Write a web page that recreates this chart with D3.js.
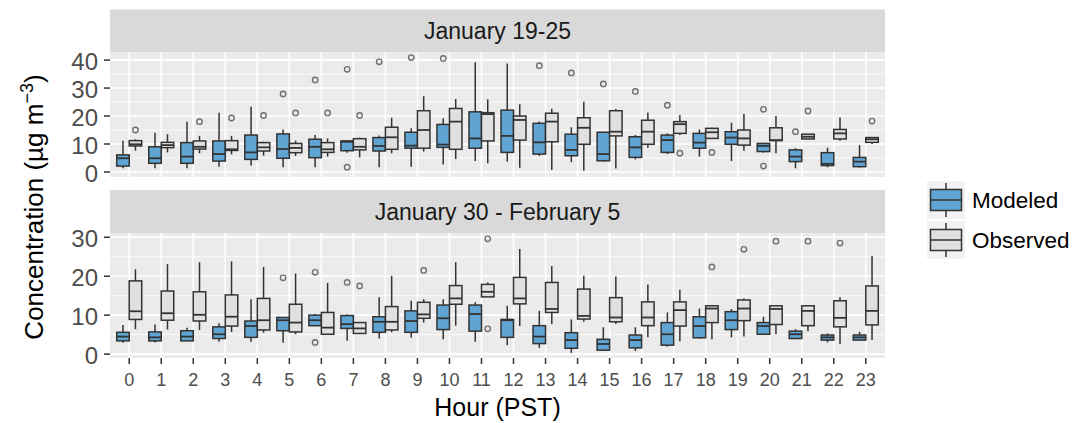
<!DOCTYPE html>
<html>
<head>
<meta charset="utf-8">
<script src="https://cdn.jsdelivr.net/npm/d3@7"></script>
<style>
body { margin: 0; background: #fff; }
text { font-family: "Liberation Sans", Arial, sans-serif; }
</style>
</head>
<body>
<script>
// hours on the x axis
var hours = d3.range(24);
var seriesNames = ["Modeled", "Observed"];
var panelTitles = ["January 19-25", "January 30 - February 5"];
var topTicks = [0, 10, 20, 30, 40];
var bottomTicks = [0, 10, 20, 30];

// box stats per hour: [lower whisker, q1, median, q3, upper whisker]
var janModeled = [
  [1.3, 2.1, 4.9, 6.1, 11.2], [1.3, 3.1, 4.9, 9.0, 14.0], [1.3, 3.1, 5.5, 10.5, 18.0], [1.9, 3.9, 6.4, 11.1, 21.2],
  [2.3, 4.5, 7.0, 13.2, 23.3], [1.7, 4.9, 8.2, 13.6, 15.2], [1.7, 5.1, 9.0, 11.7, 13.2], [6.9, 7.6, 10.8, 11.1, 11.4],
  [1.7, 7.5, 9.3, 12.3, 13.0], [1.9, 8.5, 9.4, 14.2, 15.6], [2.7, 8.8, 9.8, 17.0, 19.2], [3.9, 8.5, 12.0, 21.5, 39.2],
  [3.7, 7.0, 12.9, 22.1, 38.8], [5.7, 6.4, 10.6, 17.4, 18.0], [3.5, 5.8, 7.9, 13.5, 16.0], [3.7, 4.0, 6.4, 14.2, 14.4],
  [4.5, 5.2, 8.8, 12.6, 13.2], [6.4, 7.0, 11.4, 13.2, 13.8], [5.5, 8.5, 10.5, 13.8, 15.2], [3.9, 9.9, 12.3, 14.4, 17.6],
  [6.9, 7.3, 9.3, 10.2, 10.2], [1.3, 3.7, 5.5, 7.9, 8.5], [1.7, 2.3, 2.9, 6.9, 8.7], [1.5, 1.9, 3.7, 5.2, 9.6]
];
var janObserved = [
  [7.6, 9.3, 9.9, 11.2, 11.7], [7.0, 8.7, 9.6, 10.6, 13.5], [6.7, 8.2, 9.0, 11.1, 12.9], [6.3, 7.7, 8.1, 11.2, 12.9],
  [5.8, 7.5, 8.8, 10.5, 10.8], [5.7, 6.9, 8.6, 10.2, 11.2], [5.5, 7.0, 8.1, 10.5, 12.0], [5.2, 7.9, 9.0, 11.9, 12.3],
  [6.7, 8.1, 12.4, 16.0, 19.4], [7.3, 8.5, 15.0, 21.9, 27.1], [4.6, 8.1, 18.0, 22.7, 26.1], [3.1, 11.1, 20.7, 21.2, 26.0],
  [1.5, 11.4, 18.6, 20.0, 24.2], [0.7, 10.8, 18.0, 21.0, 22.6], [0.4, 9.9, 15.8, 19.4, 25.1], [1.2, 12.9, 14.4, 21.9, 22.5],
  [8.7, 9.9, 14.4, 18.5, 21.3], [13.2, 13.8, 17.1, 18.0, 20.4], [12.0, 12.0, 14.2, 15.6, 15.8], [7.6, 9.6, 12.0, 15.0, 20.7],
  [6.7, 11.2, 11.4, 15.8, 20.0], [11.8, 11.8, 12.6, 13.5, 13.5], [11.2, 11.8, 13.8, 15.2, 19.5], [10.0, 10.6, 11.7, 12.3, 12.3]
];
var febModeled = [
  [2.9, 3.4, 4.5, 5.6, 7.5], [3.0, 3.4, 4.3, 5.7, 7.6], [3.4, 3.4, 4.5, 6.0, 6.8], [3.2, 4.0, 5.1, 7.0, 7.9],
  [3.2, 4.3, 7.2, 8.5, 14.1], [2.9, 6.0, 8.7, 9.4, 9.4], [7.3, 7.3, 8.7, 10.0, 10.3], [3.4, 6.6, 7.7, 9.9, 10.2],
  [4.0, 5.6, 8.3, 9.6, 14.6], [4.2, 5.6, 8.5, 11.1, 13.7], [3.8, 6.3, 9.2, 12.6, 14.1], [3.2, 5.9, 10.3, 12.6, 13.3],
  [2.3, 4.3, 8.7, 8.9, 12.4], [1.6, 2.7, 4.5, 7.3, 11.1], [0.3, 1.5, 3.6, 5.5, 8.9], [1.0, 1.0, 2.6, 3.8, 6.9],
  [0.8, 1.6, 3.6, 4.9, 6.9], [1.9, 2.3, 5.1, 8.1, 10.7], [4.0, 4.2, 7.2, 9.6, 11.7], [4.3, 6.3, 8.7, 10.9, 11.6],
  [5.1, 5.1, 7.2, 8.1, 9.6], [4.0, 4.0, 5.1, 5.9, 6.4], [3.0, 3.6, 4.3, 4.9, 5.3], [3.6, 3.6, 4.3, 4.9, 5.7]
];
var febObserved = [
  [6.4, 8.9, 11.0, 18.8, 21.8], [6.3, 8.7, 10.5, 16.2, 23.1], [6.2, 8.5, 10.1, 16.0, 23.6], [5.7, 7.2, 9.6, 15.2, 23.8],
  [5.5, 6.2, 8.7, 14.3, 22.4], [5.1, 5.7, 8.1, 12.8, 20.7], [5.1, 5.1, 6.8, 10.7, 18.3], [5.3, 5.3, 6.6, 8.1, 8.1],
  [5.6, 6.2, 8.3, 12.2, 20.1], [8.1, 9.2, 10.2, 13.3, 14.1], [7.3, 12.8, 14.3, 17.6, 23.6], [14.7, 14.7, 16.0, 17.9, 18.4],
  [7.2, 12.9, 14.3, 19.7, 27.0], [7.7, 10.7, 11.6, 18.4, 22.6], [8.3, 9.0, 9.8, 16.7, 20.1], [7.7, 8.3, 9.4, 14.5, 19.9],
  [4.3, 7.3, 9.4, 13.4, 17.9], [3.3, 7.2, 11.3, 13.4, 16.5], [3.8, 8.1, 11.7, 12.4, 12.4], [4.5, 8.6, 11.7, 13.9, 14.3],
  [5.1, 7.6, 11.6, 12.4, 12.4], [5.9, 7.3, 11.1, 12.4, 12.6], [2.6, 7.0, 9.3, 13.7, 14.6], [3.6, 7.5, 11.1, 17.5, 25.2]
];
// outliers: [hour, value]
var janModeledOut = [[5, 27.9], [6, 32.9], [7, 36.7], [7, 1.7], [8, 39.4], [9, 40.9], [10, 40.6], [13, 38.0],
  [14, 35.4], [15, 31.5], [16, 28.8], [17, 23.9], [20, 22.4], [20, 2.1], [21, 14.4]];
var janObservedOut = [[0, 15.0], [2, 18.0], [3, 19.3], [4, 20.2], [5, 21.1], [6, 21.1], [7, 20.2], [17, 6.7],
  [18, 7.0], [21, 21.8], [23, 18.2]];
var febModeledOut = [[5, 19.6], [6, 21.0], [6, 3.0], [7, 18.4]];
var febObservedOut = [[7, 17.5], [9, 21.5], [11, 29.6], [11, 6.5], [18, 22.4], [19, 26.9], [20, 29.0], [21, 29.0], [22, 28.5]];

var W = 1089, H = 423;
var fills = { Modeled: "#5fa4d3", Observed: "#e0e0e0" };
var lineCol = "#333333";

var svg = d3.select("body").append("svg").attr("width", W).attr("height", H)
  .style("background", "#fff");

var panelLeft = 110, panelRight = 885;
var x = d3.scaleBand().domain(hours).range([panelLeft, panelRight]).paddingInner(0).paddingOuter(0.1);
var dodge = d3.scaleBand().domain(seriesNames).range([-x.step() * 0.39, x.step() * 0.39]);
var bw = dodge.bandwidth();

var panels = [
  { title: panelTitles[0], stripTop: 9.5, top: 52, bottom: 177, domain: [-1.8, 42.9], ticks: topTicks,
    series: { Modeled: janModeled, Observed: janObserved }, outs: { Modeled: janModeledOut, Observed: janObservedOut } },
  { title: panelTitles[1], stripTop: 190, top: 233, bottom: 358, domain: [-1.0, 31.1], ticks: bottomTicks,
    series: { Modeled: febModeled, Observed: febObserved }, outs: { Modeled: febModeledOut, Observed: febObservedOut } }
];

panels.forEach(function (p, pi) {
  var y = d3.scaleLinear().domain(p.domain).range([p.bottom, p.top]);
  var g = svg.append("g");
  //条带
  g.append("rect").attr("x", panelLeft).attr("y", p.stripTop).attr("width", panelRight - panelLeft)
    .attr("height", p.top - p.stripTop).attr("fill", "#d9d9d9");
  g.append("text").attr("x", (panelLeft + panelRight) / 2).attr("y", (p.stripTop + p.top) / 2)
    .attr("dy", "0.36em").attr("text-anchor", "middle").style("font-size", "23px").attr("fill", "#1a1a1a")
    .text(p.title);
  //背景和网格
  g.append("rect").attr("x", panelLeft).attr("y", p.top).attr("width", panelRight - panelLeft)
    .attr("height", p.bottom - p.top).attr("fill", "#ebebeb");
  var minor = p.ticks.map(function (t) { return t + 5; }).filter(function (t) { return y(t) > p.top; });
  g.selectAll("line.minor").data(minor).enter().append("line")
    .attr("x1", panelLeft).attr("x2", panelRight)
    .attr("y1", function (d) { return y(d); }).attr("y2", function (d) { return y(d); })
    .attr("stroke", "#fff").attr("stroke-width", 0.8);
  g.selectAll("line.major").data(p.ticks).enter().append("line")
    .attr("x1", panelLeft).attr("x2", panelRight)
    .attr("y1", function (d) { return y(d); }).attr("y2", function (d) { return y(d); })
    .attr("stroke", "#fff").attr("stroke-width", 1.6);
  g.selectAll("line.vgrid").data(hours).enter().append("line")
    .attr("x1", function (d) { return x(d) + x.bandwidth() / 2; })
    .attr("x2", function (d) { return x(d) + x.bandwidth() / 2; })
    .attr("y1", p.top).attr("y2", p.bottom)
    .attr("stroke", "#fff").attr("stroke-width", 1.6);

  //箱线图
  seriesNames.forEach(function (s) {
    var data = p.series[s];
    var cx = function (i) { return x(i) + x.bandwidth() / 2 + dodge(s) + bw / 2; };
    var bg = g.append("g");
    bg.selectAll("line.wh").data(data).enter().append("line")
      .attr("x1", function (d, i) { return cx(i); }).attr("x2", function (d, i) { return cx(i); })
      .attr("y1", function (d) { return y(d[4]); }).attr("y2", function (d) { return y(d[3]); })
      .attr("stroke", lineCol).attr("stroke-width", 1.5);
    bg.selectAll("line.wl").data(data).enter().append("line")
      .attr("x1", function (d, i) { return cx(i); }).attr("x2", function (d, i) { return cx(i); })
      .attr("y1", function (d) { return y(d[1]); }).attr("y2", function (d) { return y(d[0]); })
      .attr("stroke", lineCol).attr("stroke-width", 1.5);
    bg.selectAll("rect").data(data).enter().append("rect")
      .attr("x", function (d, i) { return cx(i) - bw / 2; })
      .attr("y", function (d) { return y(d[3]); })
      .attr("width", bw)
      .attr("height", function (d) { return Math.max(1, y(d[1]) - y(d[3])); })
      .attr("fill", fills[s]).attr("stroke", lineCol).attr("stroke-width", 1.5);
    bg.selectAll("line.med").data(data).enter().append("line")
      .attr("x1", function (d, i) { return cx(i) - bw / 2; }).attr("x2", function (d, i) { return cx(i) + bw / 2; })
      .attr("y1", function (d) { return y(d[2]); }).attr("y2", function (d) { return y(d[2]); })
      .attr("stroke", lineCol).attr("stroke-width", 1.8);
    bg.selectAll("circle").data(p.outs[s]).enter().append("circle")
      .attr("cx", function (d) { return cx(d[0]); })
      .attr("cy", function (d) { return y(d[1]); })
      .attr("r", 2.7).attr("fill", "none").attr("stroke", "#707070").attr("stroke-width", 1.4);
  });

  //y轴
  var ya = g.append("g");
  ya.selectAll("line").data(p.ticks).enter().append("line")
    .attr("x1", panelLeft - 6).attr("x2", panelLeft)
    .attr("y1", function (d) { return y(d); }).attr("y2", function (d) { return y(d); })
    .attr("stroke", lineCol).attr("stroke-width", 1.5);
  ya.selectAll("text").data(p.ticks).enter().append("text")
    .attr("x", panelLeft - 12).attr("y", function (d) { return y(d) + 10; })
    .attr("text-anchor", "end").style("font-size", "24px").attr("fill", "#4d4d4d")
    .text(function (d) { return d; });

  //x轴（只在下面）
  if (pi === panels.length - 1) {
    var xa = g.append("g");
    xa.selectAll("line").data(hours).enter().append("line")
      .attr("x1", function (d) { return x(d) + x.bandwidth() / 2; })
      .attr("x2", function (d) { return x(d) + x.bandwidth() / 2; })
      .attr("y1", p.bottom).attr("y2", p.bottom + 6)
      .attr("stroke", lineCol).attr("stroke-width", 1.5);
    xa.selectAll("text").data(hours).enter().append("text")
      .attr("x", function (d) { return x(d) + x.bandwidth() / 2; })
      .attr("y", p.bottom + 28)
      .attr("text-anchor", "middle").style("font-size", "18px").attr("fill", "#4d4d4d")
      .text(function (d) { return d; });
  }
});

//坐标轴标题
svg.append("text").attr("x", (panelLeft + panelRight) / 2).attr("y", 416)
  .attr("text-anchor", "middle").style("font-size", "25px").attr("fill", "#000").text("Hour (PST)");
var yt = svg.append("text").attr("transform", "translate(43,207) rotate(-90)")
  .attr("text-anchor", "middle").style("font-size", "26px").attr("fill", "#000");
yt.append("tspan").text("Concentration (\u00b5g m");
yt.append("tspan").attr("dy", "-10").style("font-size", "18px").text("\u22123");
yt.append("tspan").attr("dy", "10").text(")");

//图例
var legend = svg.append("g");
seriesNames.forEach(function (s, i) {
  var ky = 181 + i * 40, kx = 927, ks = 38;
  legend.append("rect").attr("x", kx).attr("y", ky).attr("width", ks).attr("height", ks).attr("fill", "#f2f2f2");
  legend.append("line").attr("x1", kx + ks / 2).attr("x2", kx + ks / 2).attr("y1", ky + 2).attr("y2", ky + ks - 2)
    .attr("stroke", lineCol).attr("stroke-width", 1.5);
  legend.append("rect").attr("x", kx + 3.5).attr("y", ky + 8.5).attr("width", ks - 7).attr("height", ks - 17)
    .attr("fill", fills[s]).attr("stroke", lineCol).attr("stroke-width", 1.5);
  legend.append("line").attr("x1", kx + 3.5).attr("x2", kx + ks - 3.5).attr("y1", ky + ks / 2).attr("y2", ky + ks / 2)
    .attr("stroke", lineCol).attr("stroke-width", 1.5);
  legend.append("text").attr("x", 972).attr("y", ky + ks / 2).attr("dy", "0.36em")
    .style("font-size", "22.5px").attr("fill", "#000").text(s);
});
</script>
</body>
</html>
